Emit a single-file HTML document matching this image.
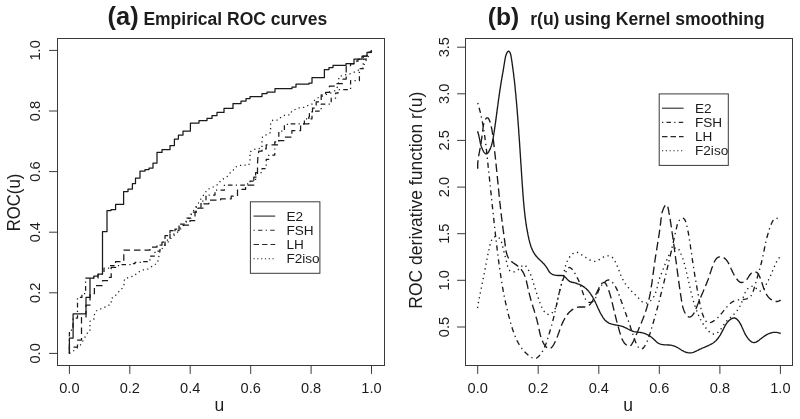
<!DOCTYPE html>
<html><head><meta charset="utf-8"><title>ROC curves</title>
<style>html,body{margin:0;padding:0;background:#fff}svg{display:block}</style></head>
<body>
<svg width="800" height="419" viewBox="0 0 800 419" font-family="'Liberation Sans', sans-serif" fill="#1c1c1c">
<rect width="800" height="419" fill="#fff"/>
<rect x="57.5" y="38.5" width="327.0" height="327.0" fill="none" stroke="#3a3a3a" stroke-width="1"/>
<rect x="465.5" y="38.5" width="327.0" height="327.0" fill="none" stroke="#3a3a3a" stroke-width="1"/>
<g stroke="#3a3a3a" stroke-width="1" fill="none">
<line x1="69.4" y1="365.5" x2="69.4" y2="373.9"/>
<line x1="57.5" y1="353.4" x2="49.1" y2="353.4"/>
<line x1="477.7" y1="365.5" x2="477.7" y2="373.9"/>
<line x1="129.8" y1="365.5" x2="129.8" y2="373.9"/>
<line x1="57.5" y1="292.8" x2="49.1" y2="292.8"/>
<line x1="538.2" y1="365.5" x2="538.2" y2="373.9"/>
<line x1="190.2" y1="365.5" x2="190.2" y2="373.9"/>
<line x1="57.5" y1="232.2" x2="49.1" y2="232.2"/>
<line x1="598.8" y1="365.5" x2="598.8" y2="373.9"/>
<line x1="250.7" y1="365.5" x2="250.7" y2="373.9"/>
<line x1="57.5" y1="171.6" x2="49.1" y2="171.6"/>
<line x1="659.3" y1="365.5" x2="659.3" y2="373.9"/>
<line x1="311.1" y1="365.5" x2="311.1" y2="373.9"/>
<line x1="57.5" y1="111.0" x2="49.1" y2="111.0"/>
<line x1="719.9" y1="365.5" x2="719.9" y2="373.9"/>
<line x1="371.5" y1="365.5" x2="371.5" y2="373.9"/>
<line x1="57.5" y1="50.4" x2="49.1" y2="50.4"/>
<line x1="780.4" y1="365.5" x2="780.4" y2="373.9"/>
<line x1="465.5" y1="327.0" x2="457.1" y2="327.0"/>
<line x1="465.5" y1="280.3" x2="457.1" y2="280.3"/>
<line x1="465.5" y1="233.7" x2="457.1" y2="233.7"/>
<line x1="465.5" y1="187.1" x2="457.1" y2="187.1"/>
<line x1="465.5" y1="140.4" x2="457.1" y2="140.4"/>
<line x1="465.5" y1="93.8" x2="457.1" y2="93.8"/>
<line x1="465.5" y1="47.2" x2="457.1" y2="47.2"/>
</g>
<g font-size="14.6" text-anchor="middle">
<text x="69.4" y="392.8">0.0</text>
<text x="477.7" y="392.8">0.0</text>
<text transform="translate(40.2 353.4) rotate(-90)">0.0</text>
<text x="129.8" y="392.8">0.2</text>
<text x="538.2" y="392.8">0.2</text>
<text transform="translate(40.2 292.8) rotate(-90)">0.2</text>
<text x="190.2" y="392.8">0.4</text>
<text x="598.8" y="392.8">0.4</text>
<text transform="translate(40.2 232.2) rotate(-90)">0.4</text>
<text x="250.7" y="392.8">0.6</text>
<text x="659.3" y="392.8">0.6</text>
<text transform="translate(40.2 171.6) rotate(-90)">0.6</text>
<text x="311.1" y="392.8">0.8</text>
<text x="719.9" y="392.8">0.8</text>
<text transform="translate(40.2 111.0) rotate(-90)">0.8</text>
<text x="371.5" y="392.8">1.0</text>
<text x="780.4" y="392.8">1.0</text>
<text transform="translate(40.2 50.4) rotate(-90)">1.0</text>
<text transform="translate(449 327.0) rotate(-90)">0.5</text>
<text transform="translate(449 280.3) rotate(-90)">1.0</text>
<text transform="translate(449 233.7) rotate(-90)">1.5</text>
<text transform="translate(449 187.1) rotate(-90)">2.0</text>
<text transform="translate(449 140.4) rotate(-90)">2.5</text>
<text transform="translate(449 93.8) rotate(-90)">3.0</text>
<text transform="translate(449 47.2) rotate(-90)">3.5</text>
</g>
<g font-size="17.5" text-anchor="middle">
<text x="219.3" y="411">u</text>
<text x="628" y="411">u</text>
<text transform="translate(20 202.5) rotate(-90) scale(0.955 1)">ROC(u)</text>
<text transform="translate(422 200.2) rotate(-90)">ROC derivative function r(u)</text>
</g>
<g font-weight="bold">
<text x="107.6" y="24.8" font-size="25.4">(a)</text>
<text x="143.4" y="24.8" font-size="17.5">Empirical ROC curves</text>
<text x="487.8" y="24.8" font-size="24.6">(b)</text>
<text x="530.3" y="24.8" font-size="17.5">r(u) using Kernel smoothing</text>
</g>
<rect x="250.4" y="201.8" width="69.5" height="71.5" fill="#fff" stroke="#3a3a3a" stroke-width="1"/>
<line x1="253.5" y1="216.1" x2="275.2" y2="216.1" stroke="#2a2a2a" stroke-width="1.1"/>
<text x="286.4" y="220.7" font-size="13.6">E2</text>
<line x1="253.5" y1="230.3" x2="275.2" y2="230.3" stroke="#2a2a2a" stroke-width="1.1" stroke-dasharray="1.3 3.2 4.5 3.2"/>
<text x="286.4" y="234.9" font-size="13.6">FSH</text>
<line x1="253.5" y1="244.5" x2="275.2" y2="244.5" stroke="#2a2a2a" stroke-width="1.1" stroke-dasharray="5.5 3"/>
<text x="286.4" y="249.1" font-size="13.6">LH</text>
<line x1="253.5" y1="258.7" x2="275.2" y2="258.7" stroke="#2a2a2a" stroke-width="1.1" stroke-dasharray="1.2 2.6"/>
<text x="286.4" y="263.3" font-size="13.6">F2iso</text>
<rect x="659.2" y="93.9" width="69.1" height="71.5" fill="#fff" stroke="#3a3a3a" stroke-width="1"/>
<line x1="662" y1="108.2" x2="683.6" y2="108.2" stroke="#2a2a2a" stroke-width="1.1"/>
<text x="695.0" y="112.8" font-size="13.6">E2</text>
<line x1="662" y1="122.4" x2="683.6" y2="122.4" stroke="#2a2a2a" stroke-width="1.1" stroke-dasharray="1.3 3.2 4.5 3.2"/>
<text x="695.0" y="127.0" font-size="13.6">FSH</text>
<line x1="662" y1="136.6" x2="683.6" y2="136.6" stroke="#2a2a2a" stroke-width="1.1" stroke-dasharray="5.5 3"/>
<text x="695.0" y="141.2" font-size="13.6">LH</text>
<line x1="662" y1="150.8" x2="683.6" y2="150.8" stroke="#2a2a2a" stroke-width="1.1" stroke-dasharray="1.2 2.6"/>
<text x="695.0" y="155.4" font-size="13.6">F2iso</text>
<g fill="none" stroke="#1a1a1a" stroke-linejoin="round">
<polyline points="69.4,353.4 75.0,350.0 81.0,344.4 86.9,333.5 90.0,331.2 90.0,321.2 93.8,319.4 94.4,314.8 96.2,311.0 100.6,309.0 107.5,306.0 111.2,303.6 111.2,298.6 115.0,296.0 118.8,291.8 122.5,288.0 124.4,283.6 124.4,279.2 128.8,277.4 133.8,276.0 138.0,272.4 142.5,270.0 147.5,269.2 152.5,266.0 157.5,263.0 160.0,251.0 168.0,242.0 172.0,237.0 180.0,230.0 188.0,220.0 194.4,209.4 198.8,202.5 201.0,198.8 207.5,189.4 215.0,186.2 218.8,183.8 220.6,180.6 227.5,176.2 230.0,173.0 233.0,170.6 235.0,167.5 238.8,165.5 248.8,165.0 250.0,161.2 250.0,151.9 254.4,149.4 262.0,148.0 262.0,141.2 262.5,136.9 266.9,134.4 270.6,132.5 270.6,123.0 273.0,120.0 278.0,120.0 281.2,117.0 285.0,115.0 290.0,114.9 291.9,111.0 298.0,108.0 303.8,107.4 308.0,105.5 311.9,104.2 314.4,100.5 317.5,98.0 325.0,95.0 332.5,92.4 336.2,89.9 337.5,86.8 338.8,81.8 338.8,76.8 342.5,75.5 351.2,73.6 355.0,71.8 358.8,69.9 363.0,68.0 365.0,62.0 368.0,57.0 371.5,50.4" stroke-dasharray="1.2 3.3" stroke-width="1.25"/>
<polyline points="69.4,353.4 69.4,330.0 73.0,330.0 73.0,318.0 77.5,318.0 77.5,297.4 81.9,297.4 81.9,293.6 85.6,293.6 85.6,278.0 98.0,278.0 98.0,274.0 104.0,274.0 104.0,268.0 110.0,268.0 110.0,265.5 122.0,265.5 122.0,264.5 130.0,264.5 130.0,263.6 135.0,263.6 135.0,262.4 142.5,262.4 142.5,261.5 150.0,261.5 150.0,256.0 155.0,256.0 155.0,251.0 160.0,251.0 160.0,245.0 165.0,245.0 165.0,240.0 170.0,240.0 170.0,234.0 175.0,234.0 175.0,229.0 180.0,229.0 180.0,224.0 186.0,224.0 186.0,218.0 191.0,218.0 191.0,212.0 196.0,212.0 196.0,207.0 201.0,207.0 201.0,201.0 206.0,201.0 206.0,195.0 215.0,195.0 215.0,190.0 224.4,190.0 224.4,185.0 245.0,185.0 245.0,183.8 250.0,183.8 250.0,181.2 255.6,181.2 255.6,172.5 262.0,172.5 262.0,168.5 266.2,168.5 266.2,159.4 268.8,159.4 268.8,155.0 274.8,155.0 274.8,141.9 278.8,141.9 278.8,131.2 284.4,131.2 284.4,124.4 290.0,124.4 290.0,123.8 304.4,123.8 304.4,118.8 312.0,118.8 312.0,111.0 321.2,111.0 321.2,104.2 331.2,104.2 331.2,98.0 335.6,98.0 335.6,93.0 338.0,93.0 338.0,89.5 350.6,89.5 350.6,80.5 359.4,80.5 359.4,68.7 363.2,68.7 363.2,59.0 367.0,59.0 367.0,55.0 369.0,55.0 369.0,52.4 371.0,52.4 371.5,50.4" stroke-dasharray="1.2 3.3 4.6 3.3" stroke-width="1.25"/>
<polyline points="69.4,353.4 69.4,347.0 77.5,347.0 77.5,340.0 81.5,340.0 81.5,317.5 86.0,317.5 86.0,305.0 90.0,305.0 90.0,293.6 94.4,293.6 94.4,285.5 102.5,285.5 102.5,280.5 108.0,280.5 108.0,277.4 111.2,277.4 111.2,267.4 115.6,267.4 115.6,261.5 123.8,261.5 123.8,250.0 150.0,250.0 150.0,247.0 157.0,247.0 157.0,245.0 162.0,245.0 162.0,242.0 165.0,242.0 165.0,235.6 170.0,235.6 170.0,230.6 179.0,230.6 179.0,225.0 190.0,225.0 190.0,220.6 195.0,220.6 195.0,212.0 198.0,212.0 198.0,208.0 203.8,208.0 203.8,203.8 208.8,203.8 208.8,200.0 220.6,200.0 220.6,198.8 231.2,198.8 231.2,196.2 237.5,196.2 237.5,189.4 245.6,189.4 245.6,185.0 253.8,185.0 253.8,177.0 257.5,177.0 257.5,164.4 257.9,156.9 258.8,151.2 262.0,151.2 262.0,148.8 266.2,148.8 266.2,144.8 278.8,144.8 278.8,140.6 284.4,140.6 284.4,137.2 291.9,137.2 291.9,130.6 300.6,130.6 300.6,123.8 308.8,123.8 308.8,116.9 309.4,116.9 309.4,113.6 312.5,113.6 312.5,108.0 316.2,108.0 316.2,101.8 321.2,101.8 321.2,94.9 325.6,94.9 325.6,92.4 329.4,92.4 329.4,86.0 337.0,86.0 337.0,83.6 343.0,83.6 343.0,79.0 346.2,79.0 346.2,66.5 350.5,66.5 350.5,63.8 354.0,63.8 354.0,61.2 358.0,61.2 358.0,59.0 363.2,59.0 363.2,56.0 367.0,56.0 367.0,52.4 371.0,52.4 371.5,50.4" stroke-dasharray="6.5 4" stroke-width="1.25"/>
<polyline points="69.4,353.4 69.4,338.1 73.1,338.1 73.1,313.8 86.0,313.8 86.0,297.4 90.0,297.4 90.0,278.0 93.8,278.0 93.8,276.1 98.1,276.1 98.1,274.2 102.5,274.2 102.5,231.6 107.0,231.6 107.0,210.6 111.0,210.6 111.0,209.6 115.6,209.6 115.6,204.4 123.6,204.4 123.6,191.6 128.0,191.6 128.0,189.0 132.4,189.0 132.4,183.6 135.5,183.6 135.5,178.0 140.0,178.0 140.0,171.0 145.0,171.0 145.0,169.6 149.0,169.6 149.0,168.0 153.0,168.0 153.0,163.0 157.0,163.0 157.0,152.4 162.0,152.4 162.0,149.6 170.0,149.6 170.0,145.6 174.4,145.6 174.4,139.0 178.4,139.0 178.4,135.0 183.0,135.0 183.0,131.0 190.4,131.0 190.4,123.0 199.0,123.0 199.0,120.6 207.0,120.6 207.0,118.4 212.0,118.4 212.0,115.6 217.0,115.6 217.0,112.4 224.0,112.4 224.0,108.4 233.0,108.4 233.0,103.6 241.0,103.6 241.0,101.0 246.0,101.0 246.0,98.6 250.0,98.6 250.0,96.6 262.0,96.6 262.0,93.6 267.0,93.6 267.0,92.0 275.0,92.0 275.0,88.6 292.0,88.6 292.0,87.0 296.0,87.0 296.0,84.0 309.0,84.0 309.0,83.0 312.0,83.0 312.0,77.6 324.4,77.6 324.4,69.6 329.0,69.6 329.0,67.6 333.0,67.6 333.0,65.4 346.0,65.4 346.0,63.6 354.0,63.6 354.0,59.0 362.0,59.0 362.0,56.0 367.0,56.0 367.0,52.4 371.0,52.4 371.5,50.4" stroke-width="1.25"/>
<polyline points="477.5,308.0 477.7,307.1 477.8,306.2 478.0,305.3 478.1,304.4 478.3,303.5 478.4,302.6 478.6,301.7 478.8,300.8 478.9,299.9 479.1,299.0 479.3,298.1 479.4,297.2 479.6,296.4 479.8,295.5 480.0,294.6 480.1,293.7 480.3,292.8 480.5,291.9 480.7,291.0 480.8,290.1 481.0,289.2 481.2,288.3 481.4,287.5 481.6,286.6 481.8,285.7 481.9,284.8 482.1,283.9 482.3,283.0 482.5,282.1 482.7,281.2 482.9,280.3 483.0,279.4 483.2,278.6 483.4,277.7 483.6,276.8 483.8,275.9 483.9,275.0 484.1,274.1 484.3,273.2 484.5,272.3 484.6,271.4 484.8,270.5 485.0,269.6 485.2,268.7 485.3,267.8 485.5,266.9 485.7,266.0 485.8,265.1 486.0,264.2 486.2,263.3 486.3,262.4 486.5,261.5 486.7,260.6 486.9,259.7 487.0,258.9 487.2,258.0 487.4,257.1 487.6,256.2 487.7,255.3 487.9,254.4 488.1,253.5 488.3,252.7 488.5,251.8 488.7,250.9 488.9,250.0 489.1,249.2 489.3,248.3 489.5,247.4 489.7,246.6 489.9,245.7 490.1,244.8 490.4,243.9 490.7,243.0 491.0,242.0 491.3,241.0 491.6,240.1 492.1,239.2 492.5,238.4 493.1,237.7 493.8,237.2 494.5,236.9 495.3,236.7 496.1,236.7 496.9,236.8 497.7,237.1 498.4,237.5 499.1,238.0 499.7,238.6 500.2,239.3 500.7,240.0 501.1,240.9 501.4,241.8 501.7,242.7 502.0,243.7 502.3,244.7 502.5,245.6 502.7,246.6 502.9,247.6 503.1,248.5 503.3,249.4 503.6,250.2 503.8,251.1 504.0,251.9 504.2,252.7 504.4,253.5 504.7,254.3 504.9,255.2 505.1,256.0 505.3,256.8 505.5,257.6 505.8,258.5 506.0,259.4 506.2,260.3 506.4,261.2 506.7,262.2 506.9,263.2 507.1,264.2 507.4,265.2 507.6,266.2 507.9,267.1 508.3,268.1 508.6,268.9 509.0,269.7 509.5,270.3 510.0,270.9 510.6,271.3 511.3,271.7 512.0,271.9 512.7,272.0 513.5,271.9 514.3,271.8 515.1,271.5 515.9,271.2 516.7,270.8 517.5,270.2 518.3,269.6 519.1,268.8 519.9,268.1 520.6,267.4 521.3,266.6 522.0,266.0 522.7,265.5 523.3,265.2 524.0,265.0 524.6,265.1 525.2,265.5 525.8,266.0 526.4,266.7 527.0,267.6 527.5,268.4 528.0,269.3 528.5,270.2 529.0,271.1 529.4,271.9 529.8,272.8 530.2,273.7 530.6,274.5 530.9,275.4 531.3,276.3 531.6,277.1 531.9,278.0 532.2,278.9 532.5,279.7 532.8,280.6 533.1,281.4 533.3,282.3 533.6,283.1 533.8,284.0 534.1,284.8 534.3,285.7 534.6,286.5 534.8,287.4 535.1,288.2 535.3,289.1 535.6,290.0 535.9,290.8 536.1,291.7 536.4,292.5 536.7,293.4 537.0,294.2 537.3,295.1 537.6,296.0 537.9,296.8 538.2,297.7 538.5,298.6 538.8,299.4 539.1,300.3 539.4,301.2 539.7,302.0 540.0,302.9 540.4,303.8 540.7,304.7 541.0,305.5 541.4,306.4 541.8,307.3 542.2,308.1 542.6,308.9 543.0,309.7 543.5,310.5 544.0,311.2 544.5,311.9 545.1,312.6 545.8,313.2 546.4,313.7 547.2,314.2 547.9,314.4 548.7,314.5 549.5,314.4 550.3,314.1 551.1,313.6 551.9,312.9 552.6,312.2 553.2,311.5 553.8,310.8 554.4,310.0 554.8,309.2 555.3,308.4 555.6,307.6 556.0,306.7 556.3,305.9 556.6,305.0 556.8,304.1 557.0,303.3 557.2,302.4 557.4,301.5 557.6,300.6 557.7,299.7 557.9,298.8 558.1,297.9 558.3,297.0 558.4,296.1 558.6,295.3 558.8,294.4 559.0,293.5 559.2,292.6 559.5,291.8 559.7,290.9 559.9,290.0 560.1,289.2 560.3,288.3 560.5,287.4 560.8,286.6 561.0,285.7 561.2,284.8 561.4,283.9 561.7,283.1 561.9,282.2 562.1,281.3 562.3,280.4 562.5,279.5 562.7,278.6 562.9,277.7 563.1,276.8 563.3,275.9 563.5,275.0 563.7,274.1 563.8,273.2 564.0,272.3 564.2,271.4 564.4,270.5 564.6,269.5 564.8,268.6 565.0,267.7 565.3,266.8 565.5,266.0 565.8,265.1 566.1,264.2 566.4,263.4 566.7,262.5 567.0,261.7 567.4,260.9 567.8,260.1 568.2,259.3 568.6,258.5 569.1,257.8 569.6,257.0 570.1,256.3 570.7,255.7 571.3,255.0 572.0,254.4 572.7,253.7 573.4,253.2 574.2,252.7 575.0,252.4 575.8,252.2 576.6,252.2 577.5,252.4 578.3,252.8 579.2,253.3 580.0,253.8 580.9,254.4 581.7,254.9 582.4,255.4 583.2,255.9 583.9,256.3 584.7,256.8 585.4,257.2 586.2,257.7 587.0,258.3 587.8,258.8 588.7,259.3 589.5,259.8 590.4,260.2 591.2,260.6 592.1,261.0 592.9,261.2 593.8,261.3 594.7,261.4 595.5,261.3 596.3,261.1 597.2,260.8 598.0,260.4 598.8,259.9 599.7,259.4 600.5,258.9 601.3,258.4 602.1,257.8 602.9,257.4 603.7,256.9 604.6,256.6 605.4,256.3 606.2,256.0 607.0,255.9 607.8,255.8 608.6,255.8 609.4,255.9 610.1,256.1 610.9,256.4 611.5,256.8 612.2,257.3 612.8,257.9 613.4,258.6 613.9,259.4 614.4,260.2 614.9,261.1 615.4,262.0 615.8,262.9 616.2,263.8 616.6,264.6 617.0,265.5 617.4,266.4 617.7,267.3 618.1,268.1 618.4,269.0 618.8,269.9 619.1,270.7 619.4,271.6 619.7,272.4 620.0,273.2 620.4,274.1 620.7,274.9 621.0,275.7 621.4,276.6 621.7,277.4 622.1,278.2 622.5,279.0 622.9,279.7 623.3,280.5 623.8,281.3 624.2,282.1 624.7,282.8 625.2,283.6 625.7,284.3 626.3,285.0 626.8,285.8 627.4,286.5 628.0,287.2 628.6,287.9 629.2,288.6 629.8,289.3 630.4,289.9 631.0,290.6 631.7,291.3 632.3,291.9 632.9,292.6 633.6,293.2 634.3,293.9 634.9,294.5 635.6,295.1 636.2,295.8 636.9,296.4 637.5,297.0 638.2,297.6 638.8,298.3 639.5,298.9 640.1,299.6 640.7,300.3 641.3,301.0 641.9,301.6 642.6,302.2 643.3,302.7 644.1,303.0 645.0,303.1 645.9,303.1 646.8,302.9 647.6,302.6 648.5,302.3 649.2,301.8 650.0,301.3 650.6,300.8 651.2,300.2 651.8,299.6 652.4,298.9 652.9,298.2 653.3,297.5 653.8,296.7 654.2,296.0 654.6,295.2 654.9,294.4 655.3,293.5 655.6,292.7 655.9,291.8 656.2,291.0 656.4,290.1 656.7,289.2 656.9,288.3 657.2,287.4 657.4,286.5 657.6,285.5 657.9,284.6 658.1,283.7 658.3,282.8 658.6,281.9 658.8,281.0 659.1,280.2 659.4,279.3 659.6,278.4 659.9,277.6 660.2,276.7 660.5,275.9 660.8,275.0 661.1,274.2 661.4,273.4 661.8,272.6 662.1,271.7 662.4,270.9 662.8,270.1 663.1,269.3 663.4,268.4 663.8,267.6 664.1,266.8 664.4,265.9 664.8,265.1 665.1,264.2 665.5,263.4 665.8,262.5 666.1,261.6 666.5,260.8 666.8,259.9 667.2,259.0 667.5,258.1 667.9,257.3 668.3,256.4 668.7,255.6 669.1,254.8 669.6,254.0 670.0,253.2 670.5,252.4 671.1,251.7 671.6,251.0 672.2,250.4 672.9,249.7 673.6,249.2 674.3,248.6 675.0,248.2 675.8,247.9 676.5,247.8 677.2,247.9 677.9,248.3 678.4,248.9 679.0,249.7 679.5,250.6 679.9,251.5 680.3,252.4 680.8,253.3 681.1,254.2 681.5,255.1 681.9,255.9 682.2,256.8 682.5,257.7 682.8,258.5 683.1,259.4 683.4,260.3 683.6,261.1 683.9,262.0 684.1,262.8 684.4,263.7 684.6,264.6 684.9,265.4 685.1,266.3 685.3,267.2 685.5,268.1 685.7,268.9 686.0,269.8 686.2,270.7 686.4,271.6 686.6,272.5 686.8,273.3 687.0,274.2 687.2,275.1 687.4,276.0 687.6,276.9 687.8,277.8 688.0,278.7 688.2,279.5 688.4,280.4 688.6,281.3 688.8,282.2 689.0,283.1 689.2,284.0 689.4,284.9 689.6,285.8 689.8,286.7 690.0,287.6 690.2,288.5 690.4,289.4 690.6,290.2 690.8,291.1 691.0,292.0 691.2,292.9 691.5,293.8 691.7,294.7 691.9,295.6 692.2,296.4 692.4,297.3 692.6,298.2 692.9,299.1 693.1,300.0 693.4,300.8 693.6,301.7 693.9,302.6 694.2,303.4 694.4,304.3 694.7,305.2 695.0,306.0 695.3,306.9 695.6,307.7 695.9,308.6 696.2,309.4 696.5,310.3 696.8,311.1 697.1,311.9 697.5,312.8 697.8,313.6 698.1,314.4 698.5,315.2 698.9,316.1 699.2,316.9 699.6,317.7 700.0,318.5 700.4,319.3 700.9,320.1 701.3,320.9 701.7,321.7 702.2,322.5 702.7,323.3 703.2,324.1 703.7,324.9 704.2,325.6 704.7,326.4 705.3,327.2 705.9,328.0 706.5,328.7 707.1,329.5 707.7,330.3 708.4,331.0 709.0,331.6 709.7,332.3 710.4,332.8 711.1,333.2 711.9,333.6 712.6,333.9 713.4,334.0 714.2,334.0 715.0,333.9 715.8,333.6 716.6,333.2 717.3,332.7 718.1,332.2 718.8,331.5 719.5,330.9 720.1,330.2 720.7,329.5 721.2,328.7 721.7,328.0 722.2,327.2 722.7,326.4 723.2,325.6 723.7,324.8 724.2,324.1 724.8,323.3 725.3,322.6 725.9,321.9 726.5,321.3 727.2,320.6 727.8,320.0 728.4,319.3 729.1,318.7 729.8,318.1 730.5,317.5 731.1,316.9 731.8,316.3 732.5,315.6 733.1,315.0 733.7,314.4 734.4,313.7 735.0,313.0 735.6,312.4 736.2,311.7 736.8,311.0 737.3,310.3 737.8,309.5 738.4,308.8 738.9,308.1 739.3,307.3 739.8,306.5 740.2,305.7 740.6,304.9 741.0,304.1 741.4,303.2 741.7,302.4 742.0,301.5 742.3,300.6 742.6,299.7 742.9,298.8 743.1,297.9 743.4,297.0 743.7,296.2 744.0,295.3 744.3,294.4 744.7,293.6 745.1,292.7 745.5,291.9 745.9,291.1 746.4,290.4 746.9,289.6 747.5,288.9 748.2,288.3 748.8,287.7 749.5,287.2 750.3,286.8 751.0,286.5 751.8,286.3 752.5,286.3 753.3,286.4 754.1,286.7 754.8,287.2 755.6,287.9 756.3,288.6 757.1,289.4 757.9,290.1 758.7,290.6 759.5,290.9 760.4,291.1 761.2,291.0 762.0,290.7 762.7,290.3 763.3,289.7 763.8,289.0 764.3,288.2 764.8,287.3 765.2,286.4 765.7,285.6 766.1,284.7 766.5,283.9 767.0,283.1 767.4,282.2 767.8,281.4 768.2,280.6 768.6,279.8 769.0,279.0 769.3,278.1 769.7,277.3 770.1,276.5 770.5,275.7 770.8,274.9 771.2,274.1 771.6,273.3 771.9,272.4 772.3,271.6 772.6,270.8 773.0,270.0 773.3,269.1 773.7,268.3 774.0,267.4 774.4,266.6 774.8,265.7 775.1,264.9 775.5,264.0 775.9,263.2 776.3,262.4 776.7,261.6 777.2,260.8 777.6,260.0 778.1,259.2 778.6,258.5 779.2,257.8 779.7,257.1 780.3,256.5" stroke-dasharray="1.3 3.6" stroke-width="1.35"/>
<polyline points="477.7,103.0 478.1,104.2 478.5,105.5 478.8,106.7 479.2,108.0 479.5,109.2 479.8,110.5 480.2,111.7 480.5,113.0 480.8,114.2 481.1,115.5 481.3,116.8 481.6,118.0 481.9,119.3 482.1,120.6 482.4,121.8 482.6,123.1 482.9,124.4 483.1,125.7 483.3,126.9 483.5,128.2 483.7,129.5 483.9,130.8 484.1,132.1 484.3,133.3 484.5,134.6 484.7,135.9 484.9,137.2 485.0,138.5 485.2,139.8 485.4,141.1 485.5,142.3 485.7,143.6 485.9,144.9 486.0,146.2 486.2,147.5 486.3,148.8 486.5,150.1 486.6,151.4 486.7,152.7 486.9,154.0 487.0,155.3 487.2,156.6 487.3,157.9 487.4,159.2 487.6,160.4 487.7,161.7 487.8,163.0 488.0,164.3 488.1,165.6 488.2,166.9 488.4,168.2 488.5,169.5 488.7,170.8 488.8,172.1 488.9,173.4 489.1,174.7 489.2,176.0 489.3,177.3 489.5,178.6 489.6,179.9 489.7,181.2 489.9,182.5 490.0,183.8 490.1,185.1 490.3,186.4 490.4,187.7 490.5,189.0 490.7,190.2 490.8,191.5 491.0,192.8 491.1,194.1 491.2,195.4 491.4,196.7 491.5,198.0 491.6,199.3 491.8,200.6 491.9,201.9 492.0,203.2 492.2,204.5 492.3,205.8 492.5,207.1 492.6,208.4 492.7,209.7 492.9,211.0 493.0,212.3 493.2,213.6 493.3,214.9 493.4,216.2 493.6,217.4 493.7,218.7 493.9,220.0 494.0,221.3 494.1,222.6 494.3,223.9 494.4,225.2 494.6,226.5 494.7,227.8 494.9,229.1 495.0,230.4 495.1,231.7 495.3,233.0 495.4,234.3 495.6,235.6 495.7,236.9 495.9,238.1 496.0,239.4 496.2,240.7 496.3,242.0 496.5,243.3 496.6,244.6 496.8,245.9 496.9,247.2 497.1,248.5 497.2,249.8 497.4,251.1 497.6,252.3 497.7,253.6 497.9,254.9 498.0,256.2 498.2,257.5 498.4,258.8 498.5,260.1 498.7,261.4 498.9,262.7 499.0,263.9 499.2,265.2 499.4,266.5 499.6,267.8 499.7,269.1 499.9,270.4 500.1,271.7 500.3,273.0 500.5,274.2 500.7,275.5 500.9,276.8 501.1,278.1 501.3,279.4 501.5,280.7 501.7,281.9 501.9,283.2 502.1,284.5 502.3,285.8 502.5,287.1 502.8,288.3 503.0,289.6 503.2,290.9 503.5,292.2 503.7,293.5 504.0,294.7 504.2,296.0 504.5,297.3 504.7,298.6 505.0,299.8 505.3,301.1 505.5,302.4 505.8,303.7 506.1,304.9 506.4,306.2 506.7,307.5 507.0,308.8 507.3,310.0 507.6,311.3 507.9,312.6 508.2,313.8 508.5,315.1 508.9,316.4 509.2,317.6 509.6,318.9 509.9,320.2 510.3,321.4 510.6,322.7 511.0,324.0 511.4,325.2 511.7,326.5 512.1,327.7 512.5,329.0 512.9,330.2 513.4,331.5 513.8,332.7 514.2,334.0 514.7,335.2 515.2,336.4 515.7,337.6 516.2,338.8 516.8,340.0 517.3,341.1 517.9,342.3 518.5,343.4 519.2,344.5 519.8,345.6 520.5,346.7 521.3,347.7 522.0,348.7 522.8,349.7 523.6,350.7 524.5,351.7 525.4,352.6 526.3,353.5 527.3,354.3 528.3,355.2 529.4,356.0 530.5,356.7 531.6,357.5 532.8,358.1 534.0,358.6 535.2,358.6 536.3,358.3 537.5,357.5 538.5,356.6 539.5,355.5 540.4,354.4 541.2,353.3 542.0,352.2 542.6,351.1 543.3,349.9 543.8,348.7 544.4,347.6 544.9,346.4 545.4,345.2 545.9,344.0 546.3,342.8 546.7,341.6 547.1,340.4 547.5,339.2 547.9,338.0 548.3,336.8 548.7,335.5 549.0,334.3 549.4,333.0 549.8,331.8 550.1,330.5 550.5,329.2 550.9,327.9 551.2,326.7 551.6,325.4 551.9,324.1 552.3,322.8 552.6,321.5 552.9,320.3 553.3,319.0 553.6,317.7 553.9,316.4 554.2,315.2 554.5,313.9 554.8,312.6 555.1,311.4 555.4,310.1 555.6,308.9 555.9,307.6 556.2,306.4 556.5,305.1 556.7,303.9 557.0,302.6 557.3,301.4 557.5,300.2 557.8,298.9 558.1,297.7 558.4,296.4 558.6,295.2 558.9,294.0 559.2,292.7 559.6,291.5 559.9,290.2 560.2,288.9 560.5,287.7 560.9,286.4 561.3,285.1 561.6,283.9 562.0,282.6 562.4,281.3 562.9,280.0 563.3,278.7 563.8,277.4 564.3,276.1 564.8,274.7 565.3,273.4 565.8,272.1 566.4,270.8 567.0,269.6 567.7,268.6 568.3,267.9 569.1,267.5 569.9,267.6 570.7,268.0 571.6,268.7 572.4,269.7 573.3,270.8 574.1,272.1 574.9,273.4 575.6,274.6 576.3,275.8 576.9,276.9 577.5,278.1 578.0,279.2 578.5,280.3 579.0,281.4 579.4,282.6 579.9,283.7 580.3,284.8 580.7,286.0 581.1,287.2 581.5,288.5 581.9,289.8 582.3,291.2 582.8,292.6 583.3,294.0 583.8,295.4 584.3,296.8 584.9,298.1 585.6,299.3 586.3,300.3 587.1,301.2 588.0,301.8 588.9,302.3 589.9,302.4 591.0,302.3 592.0,302.0 592.9,301.5 593.8,300.7 594.5,299.8 595.2,298.7 595.8,297.5 596.4,296.2 596.9,294.8 597.5,293.4 598.0,292.0 598.5,290.7 599.1,289.4 599.7,288.2 600.3,287.1 601.0,286.0 601.7,285.1 602.5,284.1 603.4,283.2 604.3,282.3 605.4,281.5 606.5,280.6 607.6,280.1 608.8,279.9 609.9,280.2 610.9,280.9 611.9,281.8 612.8,282.8 613.7,283.9 614.4,285.0 615.2,286.1 615.8,287.2 616.4,288.4 617.0,289.6 617.5,290.8 618.0,292.0 618.5,293.2 618.9,294.4 619.3,295.7 619.8,296.9 620.2,298.1 620.6,299.4 621.1,300.6 621.5,301.8 622.0,303.0 622.4,304.2 622.8,305.5 623.3,306.7 623.7,307.9 624.2,309.1 624.6,310.3 625.1,311.5 625.5,312.8 626.0,314.0 626.4,315.2 626.8,316.4 627.3,317.7 627.7,318.9 628.1,320.1 628.6,321.4 629.0,322.6 629.4,323.8 629.8,325.1 630.2,326.3 630.6,327.6 631.0,328.8 631.4,330.1 631.8,331.3 632.2,332.5 632.7,333.8 633.1,335.0 633.5,336.2 633.9,337.4 634.3,338.6 634.8,339.7 635.2,341.0 635.7,342.2 636.3,343.5 636.9,344.8 637.5,346.0 638.3,347.2 639.3,348.1 640.3,348.7 641.4,348.9 642.4,348.6 643.4,347.9 644.2,346.9 645.0,345.7 645.7,344.5 646.3,343.3 646.9,342.1 647.4,340.9 647.9,339.7 648.4,338.5 648.8,337.3 649.2,336.0 649.6,334.8 650.0,333.6 650.4,332.3 650.8,331.1 651.2,329.8 651.5,328.6 651.9,327.3 652.3,326.1 652.7,324.8 653.0,323.6 653.4,322.3 653.7,321.1 654.1,319.8 654.5,318.6 654.8,317.3 655.2,316.1 655.5,314.8 655.9,313.6 656.2,312.3 656.5,311.1 656.9,309.8 657.2,308.6 657.6,307.3 657.9,306.1 658.2,304.8 658.6,303.5 658.9,302.3 659.2,301.0 659.5,299.8 659.9,298.5 660.2,297.2 660.5,296.0 660.8,294.7 661.1,293.5 661.5,292.2 661.8,290.9 662.1,289.7 662.4,288.4 662.7,287.1 663.0,285.9 663.3,284.6 663.7,283.4 664.0,282.1 664.3,280.8 664.6,279.6 664.9,278.3 665.2,277.0 665.5,275.8 665.8,274.5 666.1,273.2 666.4,272.0 666.7,270.7 667.0,269.4 667.3,268.2 667.6,266.9 667.9,265.6 668.2,264.4 668.5,263.1 668.8,261.8 669.1,260.6 669.4,259.3 669.7,258.0 670.0,256.8 670.3,255.5 670.6,254.2 670.9,253.0 671.2,251.7 671.5,250.4 671.8,249.2 672.0,247.9 672.3,246.6 672.6,245.4 672.9,244.1 673.2,242.9 673.4,241.6 673.7,240.3 674.0,239.1 674.3,237.8 674.6,236.5 674.9,235.3 675.1,234.0 675.4,232.7 675.7,231.4 676.0,230.2 676.3,228.9 676.6,227.6 676.9,226.3 677.2,225.0 677.6,223.7 678.0,222.5 678.7,221.3 679.5,220.1 680.5,219.2 681.6,218.5 682.6,218.2 683.5,218.3 684.2,218.9 684.9,219.8 685.4,221.0 685.9,222.3 686.3,223.7 686.6,225.1 687.0,226.5 687.3,227.8 687.6,229.2 687.9,230.5 688.1,231.8 688.4,233.0 688.6,234.3 688.8,235.6 689.0,236.8 689.2,238.1 689.4,239.3 689.6,240.6 689.8,241.8 690.0,243.1 690.2,244.3 690.4,245.6 690.5,246.9 690.7,248.2 690.9,249.4 691.1,250.7 691.3,252.0 691.5,253.3 691.7,254.6 691.8,255.9 692.0,257.2 692.2,258.5 692.4,259.8 692.6,261.1 692.8,262.3 693.0,263.6 693.2,264.9 693.4,266.2 693.6,267.5 693.8,268.8 694.0,270.1 694.2,271.4 694.4,272.7 694.6,274.0 694.8,275.3 695.0,276.6 695.2,277.9 695.5,279.2 695.7,280.5 695.9,281.7 696.1,283.0 696.3,284.3 696.6,285.6 696.8,286.9 697.0,288.1 697.2,289.4 697.5,290.7 697.7,292.0 697.9,293.2 698.2,294.5 698.4,295.8 698.6,297.0 698.9,298.3 699.1,299.6 699.3,300.8 699.6,302.1 699.8,303.3 700.0,304.6 700.3,305.8 700.6,307.1 700.9,308.4 701.2,309.6 701.5,310.9 701.9,312.2 702.3,313.5 702.8,314.8 703.3,316.1 703.8,317.5 704.4,318.7 705.1,319.9 705.8,320.9 706.7,321.8 707.6,322.4 708.6,322.7 709.7,322.7 710.9,322.4 712.2,321.8 713.4,321.1 714.6,320.3 715.7,319.5 716.7,318.6 717.7,317.8 718.6,316.9 719.4,315.9 720.2,315.0 721.0,314.0 721.8,313.1 722.6,312.1 723.4,311.1 724.2,310.0 725.1,309.0 725.9,307.9 726.9,306.9 727.8,305.9 728.8,304.9 729.7,304.0 730.8,303.1 731.8,302.3 732.9,301.6 734.0,301.0 735.1,300.6 736.2,300.2 737.4,300.0 738.6,299.8 739.8,299.7 741.2,299.6 742.5,299.5 743.9,299.3 745.3,299.1 746.6,298.8 747.8,298.4 748.9,297.9 749.8,297.2 750.7,296.4 751.4,295.4 752.0,294.3 752.5,293.2 753.0,292.0 753.4,290.7 753.8,289.4 754.2,288.1 754.6,286.8 755.0,285.5 755.4,284.2 755.7,282.9 756.1,281.6 756.5,280.4 756.9,279.1 757.2,277.8 757.6,276.6 758.0,275.3 758.3,274.0 758.7,272.8 759.0,271.5 759.4,270.3 759.7,269.0 760.1,267.8 760.4,266.5 760.7,265.3 761.0,264.1 761.4,262.8 761.7,261.6 761.9,260.3 762.2,259.1 762.5,257.8 762.8,256.5 763.1,255.3 763.3,254.0 763.6,252.8 763.8,251.5 764.1,250.3 764.4,249.0 764.6,247.7 764.9,246.5 765.1,245.2 765.4,243.9 765.7,242.6 766.0,241.4 766.3,240.1 766.6,238.8 766.9,237.6 767.3,236.3 767.6,235.0 768.0,233.7 768.3,232.4 768.7,231.2 769.1,229.9 769.6,228.6 770.0,227.3 770.5,226.0 771.0,224.8 771.5,223.5 772.1,222.3 772.7,221.1 773.4,220.1 774.1,219.3 775.0,218.7 775.9,218.3 776.9,218.3 778.1,218.6 779.4,219.4 780.8,220.5" stroke-dasharray="1.3 3.7 5.2 3.7" stroke-width="1.35"/>
<polyline points="477.7,168.7 477.7,167.5 477.7,166.2 477.7,164.9 477.7,163.6 477.8,162.4 478.0,161.1 478.1,159.8 478.3,158.6 478.5,157.3 478.7,156.0 478.9,154.7 479.1,153.5 479.4,152.2 479.6,151.0 479.8,149.7 480.1,148.4 480.3,147.2 480.5,145.9 480.7,144.7 481.0,143.4 481.2,142.2 481.3,140.9 481.5,139.6 481.7,138.4 481.9,137.1 482.0,135.9 482.2,134.6 482.4,133.4 482.5,132.1 482.7,130.8 482.9,129.5 483.0,128.2 483.2,127.0 483.4,125.7 483.6,124.4 484.0,123.1 484.4,121.9 484.9,120.6 485.5,119.4 486.2,118.4 487.0,117.8 487.7,117.8 488.4,118.4 489.0,119.4 489.6,120.8 490.1,122.3 490.6,123.9 491.0,125.4 491.3,126.8 491.6,128.2 491.9,129.5 492.1,130.8 492.3,132.0 492.5,133.3 492.6,134.5 492.8,135.7 492.9,137.0 493.1,138.2 493.3,139.4 493.4,140.7 493.6,141.9 493.7,143.1 493.9,144.4 494.0,145.6 494.2,146.9 494.3,148.1 494.4,149.4 494.6,150.6 494.7,151.9 494.9,153.2 495.0,154.4 495.1,155.7 495.3,157.0 495.4,158.2 495.6,159.5 495.7,160.8 495.8,162.0 496.0,163.3 496.1,164.6 496.2,165.8 496.3,167.1 496.5,168.4 496.6,169.7 496.7,170.9 496.9,172.2 497.0,173.5 497.1,174.8 497.2,176.1 497.4,177.3 497.5,178.6 497.6,179.9 497.7,181.2 497.9,182.5 498.0,183.7 498.1,185.0 498.2,186.3 498.4,187.6 498.5,188.9 498.6,190.1 498.8,191.4 498.9,192.7 499.0,194.0 499.1,195.3 499.3,196.5 499.4,197.8 499.5,199.1 499.7,200.4 499.8,201.6 499.9,202.9 500.1,204.2 500.2,205.5 500.4,206.7 500.5,208.0 500.6,209.3 500.8,210.5 500.9,211.8 501.1,213.1 501.2,214.3 501.4,215.6 501.5,216.9 501.7,218.1 501.8,219.4 502.0,220.6 502.1,221.9 502.3,223.1 502.5,224.4 502.6,225.6 502.8,226.9 503.0,228.1 503.1,229.4 503.3,230.6 503.5,231.9 503.6,233.1 503.8,234.4 504.0,235.6 504.1,236.9 504.3,238.2 504.5,239.5 504.6,240.7 504.8,242.0 505.0,243.3 505.1,244.7 505.3,246.0 505.5,247.3 505.7,248.6 505.9,250.0 506.1,251.3 506.4,252.5 506.7,253.8 507.1,255.0 507.6,256.2 508.1,257.3 508.7,258.3 509.4,259.3 510.2,260.2 511.1,261.1 512.0,261.9 513.0,262.7 514.1,263.4 515.1,264.1 516.2,264.9 517.2,265.6 518.2,266.5 519.2,267.3 520.1,268.2 520.9,269.1 521.7,270.1 522.4,271.1 523.0,272.1 523.6,273.2 524.1,274.3 524.6,275.5 525.1,276.6 525.5,277.8 525.8,279.0 526.2,280.3 526.5,281.5 526.8,282.8 527.1,284.1 527.4,285.3 527.7,286.6 527.9,287.9 528.2,289.2 528.5,290.5 528.8,291.7 529.1,293.0 529.4,294.2 529.7,295.5 530.1,296.7 530.4,298.0 530.7,299.2 531.1,300.5 531.5,301.7 531.8,302.9 532.2,304.1 532.6,305.3 532.9,306.6 533.3,307.8 533.7,309.0 534.1,310.2 534.4,311.4 534.8,312.6 535.2,313.8 535.5,315.0 535.9,316.3 536.2,317.5 536.6,318.7 536.9,319.9 537.2,321.1 537.5,322.3 537.8,323.6 538.1,324.8 538.4,326.0 538.7,327.3 538.9,328.5 539.2,329.8 539.4,331.0 539.7,332.3 540.0,333.5 540.3,334.8 540.6,336.0 541.0,337.3 541.4,338.5 541.9,339.7 542.4,340.9 543.0,342.2 543.6,343.4 544.3,344.6 545.1,345.7 546.0,346.8 546.8,347.6 547.7,348.3 548.6,348.7 549.5,348.7 550.4,348.4 551.3,347.8 552.1,346.9 552.9,345.8 553.7,344.6 554.4,343.2 555.1,341.9 555.7,340.6 556.2,339.4 556.7,338.2 557.2,337.0 557.7,335.8 558.1,334.6 558.5,333.5 558.9,332.4 559.3,331.2 559.7,330.1 560.1,329.0 560.5,327.8 560.9,326.7 561.4,325.5 561.9,324.3 562.4,323.1 563.0,321.9 563.5,320.7 564.2,319.6 564.8,318.4 565.5,317.2 566.2,316.1 567.0,315.1 567.8,314.0 568.6,313.0 569.5,312.1 570.4,311.2 571.4,310.4 572.4,309.6 573.4,309.0 574.5,308.4 575.6,307.9 576.8,307.5 578.0,307.2 579.3,307.0 580.6,307.0 581.9,307.0 583.3,307.0 584.6,307.0 585.9,306.9 587.1,306.5 588.2,306.0 589.2,305.2 590.1,304.3 590.9,303.3 591.7,302.2 592.4,301.1 593.0,300.0 593.6,298.9 594.2,297.7 594.7,296.6 595.3,295.5 595.8,294.4 596.4,293.3 596.9,292.2 597.5,291.0 598.1,289.9 598.6,288.7 599.2,287.4 599.9,286.1 600.6,284.9 601.4,283.8 602.4,283.0 603.6,282.5 604.6,282.5 605.4,283.1 606.1,284.1 606.6,285.2 607.2,286.4 607.7,287.6 608.1,288.8 608.6,290.0 609.0,291.2 609.4,292.4 609.8,293.6 610.2,294.9 610.5,296.1 610.9,297.4 611.2,298.6 611.5,299.9 611.8,301.1 612.1,302.4 612.4,303.6 612.7,304.9 613.0,306.1 613.3,307.4 613.6,308.6 613.9,309.9 614.1,311.1 614.4,312.3 614.7,313.6 615.1,314.8 615.4,316.0 615.7,317.2 616.0,318.5 616.3,319.7 616.6,320.9 617.0,322.1 617.3,323.4 617.6,324.6 618.0,325.8 618.3,327.1 618.7,328.3 619.0,329.5 619.4,330.8 619.7,332.0 620.1,333.3 620.5,334.5 620.8,335.8 621.3,337.0 621.7,338.2 622.2,339.4 622.8,340.5 623.4,341.6 624.1,342.7 625.0,343.7 625.9,344.6 626.9,345.4 628.1,346.1 629.2,346.3 630.2,346.0 631.1,345.2 631.8,344.1 632.5,342.8 633.2,341.6 633.8,340.5 634.3,339.3 634.8,338.1 635.3,337.0 635.8,335.8 636.3,334.6 636.8,333.5 637.3,332.3 637.8,331.2 638.3,330.0 638.8,328.8 639.3,327.6 639.8,326.5 640.3,325.3 640.8,324.1 641.3,322.9 641.8,321.7 642.2,320.6 642.7,319.4 643.2,318.2 643.6,317.0 644.1,315.8 644.5,314.6 645.0,313.4 645.4,312.2 645.8,310.9 646.2,309.7 646.6,308.5 646.9,307.3 647.3,306.1 647.6,304.8 648.0,303.6 648.3,302.4 648.6,301.1 648.9,299.9 649.1,298.7 649.4,297.4 649.7,296.2 649.9,294.9 650.2,293.7 650.4,292.4 650.6,291.2 650.8,289.9 651.0,288.6 651.2,287.4 651.4,286.1 651.6,284.8 651.8,283.6 652.0,282.3 652.2,281.0 652.3,279.8 652.5,278.5 652.7,277.2 652.9,276.0 653.0,274.7 653.2,273.4 653.4,272.2 653.5,270.9 653.7,269.6 653.9,268.3 654.0,267.1 654.2,265.8 654.4,264.5 654.6,263.3 654.8,262.0 654.9,260.7 655.1,259.5 655.3,258.2 655.5,256.9 655.7,255.7 655.9,254.4 656.1,253.2 656.3,251.9 656.5,250.6 656.7,249.4 656.9,248.1 657.1,246.8 657.3,245.6 657.5,244.3 657.7,243.1 657.9,241.8 658.1,240.5 658.3,239.3 658.5,238.0 658.7,236.8 658.9,235.5 659.1,234.2 659.3,233.0 659.5,231.7 659.6,230.5 659.8,229.2 660.0,227.9 660.2,226.7 660.3,225.4 660.5,224.2 660.6,222.9 660.8,221.6 660.9,220.4 661.0,219.1 661.2,217.9 661.3,216.6 661.5,215.3 661.8,214.0 662.0,212.7 662.4,211.4 662.9,210.1 663.4,208.7 664.0,207.4 664.7,206.2 665.3,205.3 665.9,204.8 666.5,204.7 667.0,205.0 667.4,205.8 667.8,206.8 668.1,208.0 668.4,209.4 668.7,210.9 668.9,212.4 669.2,213.8 669.5,215.3 669.7,216.7 669.9,218.0 670.2,219.4 670.4,220.8 670.6,222.1 670.8,223.4 671.0,224.8 671.2,226.1 671.4,227.3 671.6,228.6 671.8,229.9 672.0,231.1 672.1,232.4 672.3,233.6 672.5,234.9 672.7,236.1 672.8,237.3 673.0,238.5 673.2,239.8 673.3,241.0 673.5,242.2 673.7,243.4 673.8,244.6 674.0,245.9 674.1,247.1 674.3,248.3 674.5,249.5 674.6,250.8 674.8,252.0 675.0,253.3 675.1,254.5 675.3,255.8 675.5,257.1 675.6,258.4 675.8,259.7 676.0,260.9 676.2,262.2 676.3,263.5 676.5,264.8 676.7,266.1 676.8,267.4 677.0,268.7 677.2,270.0 677.4,271.3 677.5,272.6 677.7,273.9 677.9,275.2 678.1,276.5 678.2,277.8 678.4,279.0 678.6,280.3 678.8,281.6 678.9,282.8 679.1,284.1 679.3,285.3 679.4,286.6 679.6,287.8 679.8,289.0 679.9,290.3 680.1,291.5 680.3,292.7 680.5,294.0 680.7,295.2 680.9,296.5 681.1,297.7 681.3,299.0 681.5,300.3 681.7,301.5 681.9,302.8 682.2,304.1 682.5,305.4 682.7,306.7 683.1,307.9 683.5,309.2 683.9,310.4 684.4,311.6 685.0,312.8 685.6,313.9 686.4,314.9 687.2,315.9 688.1,316.7 689.2,317.1 690.2,316.9 691.3,316.3 692.4,315.4 693.2,314.3 694.0,313.2 694.6,312.0 695.1,310.8 695.6,309.6 696.1,308.4 696.6,307.2 697.1,306.0 697.5,304.8 698.0,303.7 698.5,302.5 699.0,301.4 699.5,300.2 699.9,299.0 700.4,297.9 700.9,296.7 701.4,295.6 701.9,294.4 702.4,293.2 703.0,292.0 703.5,290.8 704.0,289.6 704.5,288.4 705.0,287.2 705.5,285.9 706.0,284.7 706.5,283.5 707.0,282.4 707.4,281.2 707.9,280.0 708.3,278.9 708.7,277.7 709.1,276.6 709.4,275.4 709.8,274.3 710.2,273.1 710.6,272.0 711.0,270.8 711.4,269.5 711.8,268.3 712.3,267.0 712.8,265.6 713.3,264.3 713.8,263.0 714.4,261.7 715.1,260.5 715.8,259.4 716.6,258.4 717.5,257.6 718.5,257.1 719.5,256.8 720.7,256.7 721.8,256.9 723.0,257.3 724.0,257.8 725.0,258.6 725.9,259.4 726.7,260.4 727.5,261.5 728.2,262.6 728.9,263.9 729.5,265.1 730.0,266.4 730.6,267.6 731.1,268.8 731.7,270.0 732.2,271.1 732.7,272.2 733.2,273.3 733.8,274.4 734.4,275.4 735.1,276.5 735.8,277.5 736.5,278.6 737.4,279.7 738.3,280.8 739.3,281.7 740.3,282.3 741.5,282.5 742.6,282.4 743.8,282.1 744.9,281.4 745.9,280.6 746.7,279.6 747.5,278.5 748.3,277.3 749.0,276.1 749.8,275.0 750.6,274.0 751.5,273.1 752.5,272.5 753.6,272.1 754.8,271.9 755.9,272.1 756.9,272.5 757.8,273.3 758.5,274.3 759.1,275.5 759.7,276.7 760.2,277.9 760.7,279.2 761.1,280.5 761.6,281.7 762.0,283.0 762.4,284.3 762.8,285.6 763.2,286.8 763.6,288.0 764.1,289.3 764.6,290.4 765.1,291.6 765.6,292.7 766.2,293.8 766.8,294.9 767.5,295.9 768.2,296.9 769.0,297.8 769.9,298.6 770.9,299.4 772.0,300.1 773.1,300.7 774.3,301.2 775.5,301.5 776.8,301.5 778.0,301.3 779.3,300.9 780.6,300.1" stroke-dasharray="8.5 4" stroke-width="1.35"/>
<polyline points="477.5,131.3 477.9,132.3 478.2,133.2 478.5,134.2 478.7,135.1 478.9,136.0 479.1,136.9 479.3,137.7 479.5,138.6 479.6,139.4 479.8,140.3 480.0,141.1 480.1,142.0 480.3,142.8 480.5,143.7 480.8,144.6 481.0,145.5 481.3,146.5 481.7,147.4 482.1,148.4 482.5,149.5 483.0,150.5 483.5,151.5 484.1,152.4 484.7,153.1 485.3,153.6 485.9,153.9 486.6,153.9 487.2,153.6 487.8,153.0 488.4,152.3 488.9,151.4 489.4,150.4 489.9,149.4 490.4,148.4 490.8,147.4 491.1,146.4 491.5,145.4 491.7,144.5 492.0,143.6 492.2,142.7 492.4,141.8 492.6,140.9 492.8,140.0 493.0,139.1 493.1,138.3 493.3,137.4 493.4,136.5 493.6,135.6 493.7,134.7 493.8,133.8 494.0,132.9 494.1,132.0 494.3,131.1 494.4,130.2 494.5,129.3 494.7,128.3 494.8,127.4 494.9,126.5 495.1,125.6 495.2,124.6 495.3,123.7 495.5,122.8 495.6,121.9 495.7,120.9 495.9,120.0 496.0,119.0 496.1,118.1 496.2,117.2 496.4,116.2 496.5,115.3 496.6,114.3 496.7,113.4 496.9,112.5 497.0,111.5 497.1,110.6 497.2,109.6 497.4,108.7 497.5,107.7 497.6,106.8 497.7,105.8 497.9,104.9 498.0,104.0 498.1,103.0 498.2,102.1 498.4,101.1 498.5,100.2 498.6,99.3 498.7,98.3 498.9,97.4 499.0,96.5 499.1,95.5 499.3,94.6 499.4,93.7 499.5,92.8 499.7,91.8 499.8,90.9 499.9,90.0 500.1,89.1 500.2,88.2 500.4,87.3 500.5,86.4 500.6,85.5 500.8,84.6 500.9,83.7 501.1,82.8 501.2,81.9 501.4,81.0 501.5,80.1 501.7,79.2 501.8,78.3 502.0,77.4 502.2,76.5 502.3,75.6 502.5,74.7 502.6,73.8 502.8,72.9 502.9,72.0 503.1,71.0 503.3,70.1 503.4,69.2 503.6,68.2 503.7,67.3 503.9,66.3 504.0,65.3 504.2,64.3 504.4,63.3 504.5,62.3 504.7,61.3 504.8,60.3 505.0,59.3 505.2,58.3 505.4,57.3 505.6,56.4 505.9,55.5 506.2,54.6 506.5,53.8 506.8,53.1 507.2,52.4 507.6,51.8 508.1,51.4 508.6,51.2 509.1,51.4 509.6,51.9 510.0,52.5 510.3,53.2 510.6,54.1 510.8,55.0 511.0,55.9 511.2,56.9 511.3,57.9 511.5,58.9 511.6,59.8 511.8,60.8 511.9,61.8 512.1,62.7 512.2,63.7 512.3,64.7 512.5,65.6 512.6,66.6 512.7,67.6 512.9,68.5 513.0,69.5 513.1,70.4 513.2,71.4 513.4,72.3 513.5,73.2 513.6,74.2 513.7,75.1 513.8,76.1 513.9,77.0 514.0,77.9 514.2,78.9 514.3,79.8 514.4,80.7 514.5,81.7 514.6,82.6 514.7,83.5 514.8,84.4 514.9,85.4 515.0,86.3 515.1,87.2 515.2,88.1 515.2,89.1 515.3,90.0 515.4,90.9 515.5,91.8 515.6,92.7 515.7,93.7 515.8,94.6 515.9,95.5 516.0,96.4 516.0,97.4 516.1,98.3 516.2,99.2 516.3,100.1 516.4,101.1 516.5,102.0 516.5,102.9 516.6,103.8 516.7,104.8 516.8,105.7 516.9,106.6 516.9,107.5 517.0,108.5 517.1,109.4 517.2,110.3 517.2,111.3 517.3,112.2 517.4,113.1 517.5,114.1 517.5,115.0 517.6,115.9 517.7,116.9 517.8,117.8 517.8,118.7 517.9,119.6 518.0,120.6 518.0,121.5 518.1,122.4 518.2,123.4 518.2,124.3 518.3,125.3 518.4,126.2 518.5,127.1 518.5,128.1 518.6,129.0 518.7,129.9 518.7,130.9 518.8,131.8 518.8,132.7 518.9,133.7 519.0,134.6 519.0,135.5 519.1,136.5 519.2,137.4 519.2,138.4 519.3,139.3 519.4,140.2 519.4,141.2 519.5,142.1 519.6,143.0 519.6,144.0 519.7,144.9 519.7,145.9 519.8,146.8 519.9,147.7 519.9,148.7 520.0,149.6 520.1,150.5 520.1,151.5 520.2,152.4 520.2,153.4 520.3,154.3 520.4,155.2 520.4,156.2 520.5,157.1 520.5,158.0 520.6,159.0 520.7,159.9 520.7,160.9 520.8,161.8 520.8,162.7 520.9,163.7 521.0,164.6 521.0,165.5 521.1,166.5 521.2,167.4 521.2,168.4 521.3,169.3 521.3,170.2 521.4,171.2 521.5,172.1 521.5,173.0 521.6,174.0 521.6,174.9 521.7,175.9 521.8,176.8 521.8,177.7 521.9,178.7 522.0,179.6 522.0,180.5 522.1,181.5 522.1,182.4 522.2,183.3 522.3,184.3 522.3,185.2 522.4,186.1 522.5,187.1 522.5,188.0 522.6,188.9 522.7,189.9 522.7,190.8 522.8,191.7 522.9,192.7 522.9,193.6 523.0,194.5 523.1,195.5 523.1,196.4 523.2,197.3 523.3,198.3 523.4,199.2 523.4,200.1 523.5,201.0 523.6,202.0 523.7,202.9 523.8,203.8 523.8,204.8 523.9,205.7 524.0,206.6 524.1,207.5 524.2,208.5 524.3,209.4 524.4,210.3 524.5,211.3 524.6,212.2 524.7,213.1 524.8,214.0 524.9,215.0 525.0,215.9 525.1,216.8 525.2,217.7 525.4,218.7 525.5,219.6 525.6,220.5 525.7,221.4 525.9,222.4 526.0,223.3 526.1,224.2 526.3,225.1 526.4,226.1 526.6,227.0 526.7,227.9 526.9,228.8 527.1,229.8 527.2,230.7 527.4,231.6 527.6,232.5 527.8,233.5 527.9,234.4 528.1,235.3 528.3,236.2 528.5,237.2 528.7,238.1 528.9,239.0 529.1,239.9 529.4,240.9 529.6,241.8 529.8,242.7 530.1,243.6 530.4,244.5 530.6,245.4 530.9,246.3 531.2,247.2 531.6,248.0 531.9,248.9 532.3,249.7 532.7,250.6 533.1,251.4 533.5,252.2 534.0,253.0 534.4,253.8 535.0,254.5 535.5,255.3 536.1,256.0 536.7,256.7 537.3,257.4 537.9,258.1 538.6,258.7 539.3,259.4 540.0,260.1 540.7,260.7 541.4,261.4 542.1,262.0 542.7,262.7 543.4,263.4 544.1,264.1 544.7,264.8 545.3,265.6 545.9,266.4 546.4,267.2 547.0,268.0 547.5,268.8 547.9,269.7 548.4,270.5 549.0,271.3 549.5,272.0 550.1,272.7 550.7,273.3 551.5,273.8 552.2,274.3 553.1,274.6 553.9,274.9 554.8,275.1 555.8,275.3 556.8,275.4 557.7,275.5 558.7,275.5 559.7,275.5 560.6,275.5 561.6,275.5 562.5,275.6 563.3,275.8 564.1,276.2 564.8,276.7 565.5,277.4 566.2,278.1 566.9,278.9 567.5,279.6 568.2,280.3 569.0,280.9 569.7,281.4 570.6,281.8 571.4,282.0 572.3,282.3 573.2,282.5 574.1,282.7 575.0,282.9 575.9,283.2 576.8,283.5 577.6,283.8 578.5,284.1 579.4,284.5 580.2,284.8 581.0,285.2 581.9,285.7 582.6,286.1 583.4,286.6 584.2,287.1 584.9,287.7 585.6,288.2 586.3,288.8 586.9,289.4 587.6,290.1 588.2,290.7 588.8,291.4 589.3,292.1 589.9,292.8 590.4,293.6 590.9,294.3 591.4,295.1 591.9,295.9 592.4,296.7 592.9,297.5 593.3,298.3 593.8,299.1 594.2,300.0 594.6,300.8 595.1,301.7 595.5,302.6 595.9,303.5 596.3,304.3 596.7,305.2 597.1,306.1 597.5,307.0 597.9,307.9 598.3,308.8 598.8,309.7 599.2,310.5 599.6,311.4 600.0,312.3 600.5,313.2 600.9,314.0 601.4,314.9 601.9,315.7 602.4,316.5 602.9,317.3 603.4,318.1 604.0,318.8 604.5,319.5 605.1,320.2 605.8,320.8 606.4,321.4 607.1,321.9 607.9,322.4 608.6,322.9 609.4,323.3 610.3,323.6 611.1,323.9 612.0,324.2 612.9,324.4 613.9,324.6 614.8,324.8 615.7,325.0 616.7,325.1 617.6,325.3 618.6,325.5 619.5,325.7 620.4,325.9 621.3,326.1 622.2,326.4 623.1,326.7 623.9,327.0 624.7,327.4 625.6,327.8 626.4,328.2 627.2,328.6 628.0,329.0 628.9,329.4 629.7,329.9 630.6,330.3 631.4,330.7 632.3,331.0 633.2,331.3 634.1,331.6 635.0,331.8 636.0,331.9 636.9,332.1 637.9,332.2 638.8,332.3 639.7,332.4 640.7,332.5 641.6,332.7 642.5,332.9 643.4,333.1 644.3,333.4 645.1,333.7 646.0,334.0 646.8,334.4 647.7,334.8 648.5,335.2 649.3,335.7 650.1,336.2 650.8,336.7 651.6,337.3 652.3,337.9 653.0,338.5 653.8,339.2 654.5,339.9 655.2,340.6 655.9,341.3 656.6,341.9 657.3,342.5 658.1,343.1 658.9,343.5 659.7,343.9 660.5,344.2 661.4,344.4 662.3,344.6 663.2,344.7 664.2,344.8 665.1,344.9 666.1,344.9 667.1,344.9 668.0,345.0 669.0,345.0 669.9,345.1 670.9,345.2 671.8,345.4 672.7,345.6 673.6,345.8 674.5,346.1 675.3,346.5 676.1,346.9 677.0,347.3 677.8,347.8 678.6,348.3 679.4,348.8 680.2,349.3 681.0,349.8 681.8,350.3 682.6,350.7 683.5,351.2 684.3,351.6 685.2,351.9 686.0,352.3 686.9,352.5 687.8,352.7 688.7,352.9 689.6,352.9 690.5,352.9 691.4,352.8 692.3,352.6 693.1,352.4 694.0,352.1 694.8,351.7 695.7,351.3 696.6,350.9 697.4,350.5 698.3,350.1 699.1,349.6 700.0,349.2 700.9,348.8 701.7,348.4 702.6,348.0 703.5,347.6 704.4,347.3 705.3,346.9 706.1,346.5 707.0,346.2 707.8,345.8 708.7,345.4 709.5,345.0 710.3,344.6 711.2,344.2 711.9,343.7 712.7,343.3 713.5,342.8 714.2,342.2 714.9,341.6 715.6,341.0 716.2,340.4 716.8,339.7 717.4,339.0 718.0,338.3 718.6,337.5 719.1,336.7 719.7,335.9 720.2,335.1 720.7,334.2 721.1,333.4 721.6,332.5 722.1,331.7 722.5,330.8 723.0,329.9 723.4,329.1 723.8,328.2 724.3,327.4 724.7,326.5 725.2,325.7 725.6,324.9 726.1,324.1 726.6,323.4 727.2,322.6 727.8,321.9 728.4,321.2 729.0,320.6 729.7,320.0 730.5,319.4 731.3,318.9 732.1,318.5 732.9,318.2 733.7,318.0 734.5,318.0 735.3,318.2 736.0,318.6 736.7,319.1 737.4,319.7 738.1,320.4 738.7,321.2 739.3,322.0 739.8,322.9 740.4,323.9 740.9,324.8 741.4,325.7 741.8,326.7 742.2,327.6 742.6,328.4 743.0,329.3 743.4,330.1 743.7,330.9 744.1,331.8 744.4,332.6 744.8,333.3 745.2,334.1 745.6,334.9 746.1,335.6 746.6,336.4 747.1,337.2 747.6,337.9 748.2,338.7 748.9,339.5 749.6,340.2 750.4,340.9 751.2,341.6 752.0,342.1 752.8,342.4 753.6,342.6 754.4,342.5 755.2,342.4 756.1,342.1 756.9,341.6 757.7,341.1 758.5,340.6 759.3,340.0 760.1,339.3 760.9,338.7 761.7,338.1 762.5,337.5 763.2,337.0 764.0,336.4 764.8,335.9 765.6,335.4 766.4,334.9 767.2,334.4 768.0,334.0 768.8,333.6 769.7,333.3 770.5,333.0 771.4,332.8 772.2,332.6 773.1,332.4 774.0,332.3 774.9,332.3 775.8,332.3 776.7,332.4 777.7,332.6 778.7,332.8 779.7,333.1 780.7,333.5" stroke-width="1.35"/>
</g>
</svg>
</body></html>
